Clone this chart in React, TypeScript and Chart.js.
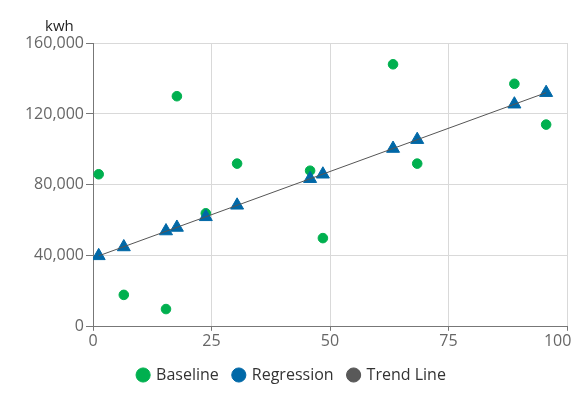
import React, { useEffect, useRef } from "react";
import { Chart, registerables } from "chart.js";

Chart.register(...registerables);

const xValues = [1.2, 6.5, 15.4, 17.7, 23.8, 30.4, 45.8, 48.5, 63.3, 68.4, 88.9, 95.6];
const baselineValues = [86000, 18000, 10000, 130000, 64000, 92000, 88000, 50000, 148000, 92000, 137000, 114000];
const regressionValues = [40000, 45000, 54000, 56000, 62000, 68500, 83500, 86000, 100500, 105500, 125500, 132000];
const trendX = [1.2, 95.6];
const trendY = [40000, 132000];
const seriesNames = ["Baseline", "Regression", "Trend Line"];
const yTitle = "kwh";

const FONT = "'Open Sans', sans-serif";

export default function App() {
  const ref = useRef<HTMLCanvasElement | null>(null);

  useEffect(() => {
    document.body.style.margin = "0";
    const canvas = ref.current;
    if (!canvas) return;

    const titlePlugin = {
      id: "kwhTitle",
      afterDraw(chart: any) {
        const { ctx, chartArea } = chart;
        ctx.save();
        ctx.font = `15px ${FONT}`;
        ctx.fillStyle = "#222";
        ctx.textAlign = "left";
        ctx.textBaseline = "middle";
        ctx.fillText(yTitle, chartArea.left - 48, chartArea.top - 16);
        ctx.restore();
      },
    };

    const chart = new Chart(canvas, {
      type: "scatter",
      data: {
        datasets: [
          {
            label: seriesNames[0],
            data: xValues.map((x, i) => ({ x, y: baselineValues[i] })),
            backgroundColor: "#00b04f",
            borderColor: "#00b04f",
            pointStyle: "circle",
            pointRadius: 4.8,
            order: 2,
          },
          {
            label: seriesNames[1],
            data: xValues.map((x, i) => ({ x, y: regressionValues[i] })),
            backgroundColor: "#0068a7",
            borderColor: "#0068a7",
            pointStyle: "triangle",
            pointRadius: 7.5,
            order: 1,
          },
          {
            type: "line",
            label: seriesNames[2],
            data: trendX.map((x, i) => ({ x, y: trendY[i] })),
            backgroundColor: "#595959",
            borderColor: "#555555",
            borderWidth: 1,
            pointRadius: 0,
            showLine: true,
            order: 0,
          } as any,
        ],
      },
      options: {
        animation: false,
        responsive: false,
        maintainAspectRatio: false,
        layout: { padding: { top: 43, left: 17, right: 9, bottom: 6 } },
        plugins: {
          tooltip: { enabled: false },
          legend: {
            position: "bottom",
            labels: {
              usePointStyle: true,
              pointStyle: "circle",
              boxWidth: 10,
              boxHeight: 10,
              padding: 15,
              color: "#333",
              font: { family: FONT, size: 16 },
              sort: (a: any, b: any) => a.datasetIndex - b.datasetIndex,
            },
          },
        },
        scales: {
          x: {
            type: "linear",
            min: 0,
            max: 100,
            ticks: {
              stepSize: 25,
              color: "#666",
              font: { family: FONT, size: 16 },
              padding: 1,
              callback: (v: any) => (Number(v) === 100 ? "100\u2002\u2002\u2009" : String(v)),
            },
            grid: { color: "#d9d9d9", tickColor: "#777", tickLength: 4 },
            border: { color: "#777" },
            afterFit: (scale: any) => {
              scale.paddingLeft = 0;
              scale.paddingRight = 0;
            },
          },
          y: {
            type: "linear",
            min: 0,
            max: 160000,
            ticks: {
              stepSize: 40000,
              color: "#666",
              font: { family: FONT, size: 16 },
              padding: 2,
              callback: (v: any) => Number(v).toLocaleString("en-US"),
            },
            grid: { color: "#d9d9d9", tickColor: "#777", tickLength: 7 },
            border: { color: "#777" },
            afterFit: (scale: any) => {
              scale.width = 76;
            },
          },
        },
      },
      plugins: [titlePlugin],
    });

    return () => chart.destroy();
  }, []);

  return (
    <div style={{ width: 576, height: 399 }}>
      <canvas ref={ref} width={576} height={399} style={{ width: 576, height: 399 }} />
    </div>
  );
}
